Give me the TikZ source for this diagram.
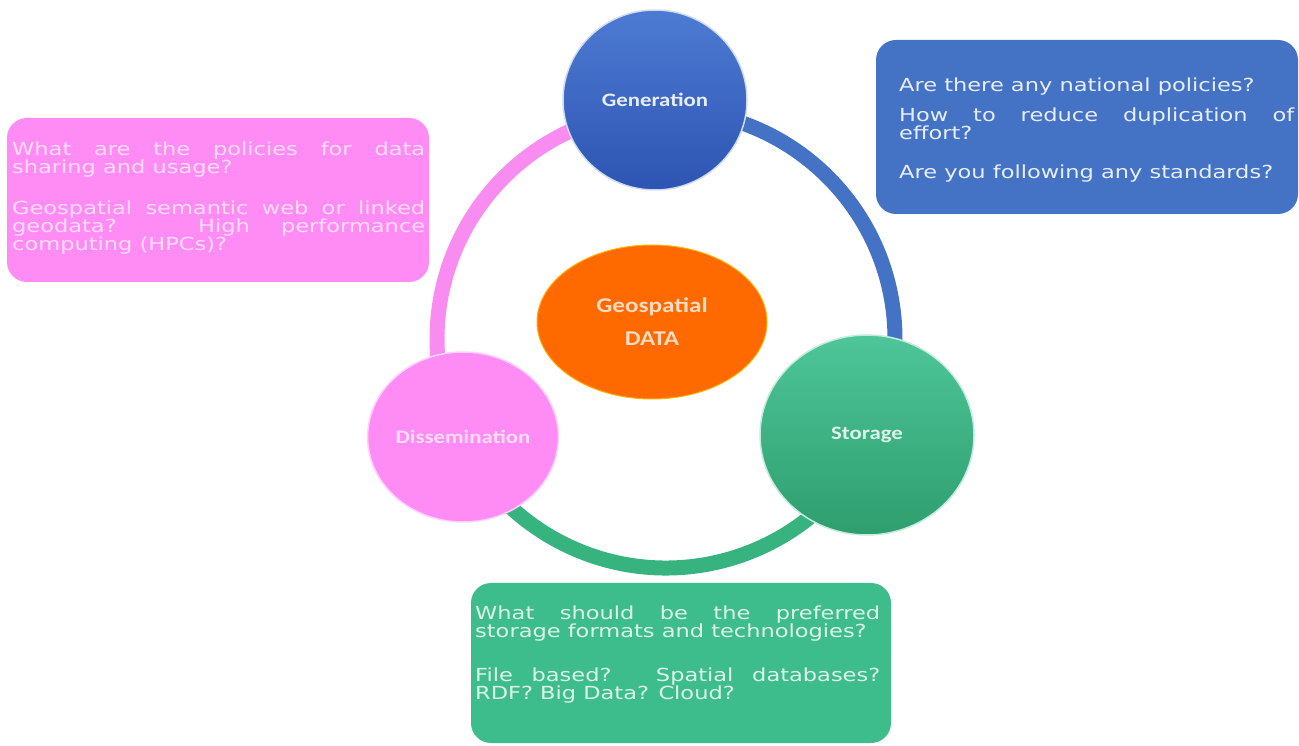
\documentclass[tikz,border=0pt]{standalone}
\usepackage{fontspec}
\setmainfont{DejaVu Sans}
\newfontfamily\qfont[FakeStretch=1.25]{DejaVu Sans}
\newfontfamily\cfont[FakeStretch=1.2]{Carlito}
\usetikzlibrary{shapes.geometric}
\definecolor{genfill}{HTML}{4472C4}
\definecolor{gentop}{HTML}{4D7BD3}
\definecolor{genbot}{HTML}{2D54B2}
\definecolor{stofill}{HTML}{3EBD8C}
\definecolor{stotop}{HTML}{4EC699}
\definecolor{stobot}{HTML}{2E9E6E}
\definecolor{dissfill}{HTML}{FF8CF5}
\definecolor{datafill}{HTML}{FF6A00}
\definecolor{ringpink}{HTML}{F98CF0}
\definecolor{ringblue}{HTML}{4472C4}
\definecolor{ringgreen}{HTML}{36B37E}
\definecolor{dissq}{HTML}{FFDDFB}
\definecolor{genq}{HTML}{E8EEF8}
\definecolor{stoq}{HTML}{DDF4EA}
\definecolor{datatext}{HTML}{FFDCC2}

\begin{document}
\begin{tikzpicture}[x=1pt,y=1pt,
	stage/.style={ellipse, inner sep=0pt, align=center, font={\cfont\bfseries\fontsize{19}{19}\selectfont}},
	qbox/.style={rectangle, rounded corners=20pt, inner sep=0pt},
	qtext/.style={anchor=north west, inner sep=0pt, align=justify, font={\qfont\fontsize{18}{18}\selectfont}},
	ringline/.style={line width=15pt}]
			%%%%% START %%%%%
			
			\useasboundingbox (0,0) rectangle (1299,745);
			\coordinate (ring) at (666,406);
			
			% the cycle
			\draw[ringline, color=ringpink] ([shift={(205.8:229)}]ring) arc[start angle=205.8, end angle=92.6, radius=229];
			\draw[ringline, color=ringblue] ([shift={(92.6:229)}]ring) arc[start angle=92.6, end angle=-25.5, radius=229];
			\draw[ringline, color=ringgreen] ([shift={(-25.5:229)}]ring) arc[start angle=-25.5, end angle=-154.2, radius=229];
			
			% question boxes
			\node[qbox, fill=dissfill, minimum width=422pt, minimum height=164pt] (dissbox) at (218,545) {};
			\node[qbox, fill=genfill, minimum width=422pt, minimum height=174pt] (genbox) at (1087,618) {};
			\node[qbox, fill=stofill, minimum width=420pt, minimum height=160pt] (stobox) at (681,82) {};
			
			\node[qtext, text width=413pt, text=dissq] (dissq) at (12,603) {What are the policies for data\linebreak sharing and usage?\\[23pt]
				Geospatial semantic web or linked\linebreak geodata? High performance\linebreak computing (HPCs)?};
			\node[qtext, text width=395pt, text=genq] (genq) at (899,667) {Are there any national policies?\\[12pt]
				How to reduce duplication of\linebreak effort?\\[21pt]
				Are you following any standards?};
			\node[qtext, text width=405pt, text=stoq] (stoq) at (475,139) {What should be the preferred\linebreak storage formats and technologies?\\[26pt]
				File based? Spatial databases?\linebreak RDF? Big Data? Cloud?};
			
			% stages
			\node[stage, minimum width=184pt, minimum height=180pt, top color=gentop, bottom color=genbot, draw=white!75!genfill, line width=1.5pt, text=genq] (gen) at (655,645) {Generation};
			\node[stage, minimum width=214pt, minimum height=200pt, top color=stotop, bottom color=stobot, draw=white!70!stofill, line width=1.5pt, text=stoq] (sto) at (867,310) {Storage};
			\node[stage, minimum width=186pt, minimum height=170pt, fill=dissfill, draw=white!60!dissfill, line width=1.5pt, text=dissq] (diss) at (463,308) {Dissemination};
			\node[stage, minimum width=230pt, minimum height=154pt, fill=datafill, draw=orange!60!yellow, line width=1pt, text=datatext, font={\cfont\bfseries\fontsize{21}{21}\selectfont}] (data) at (652,423) {Geospatial\\[12pt]DATA};
			
			%%%%% END %%%%%
		\end{tikzpicture}
\end{document}
